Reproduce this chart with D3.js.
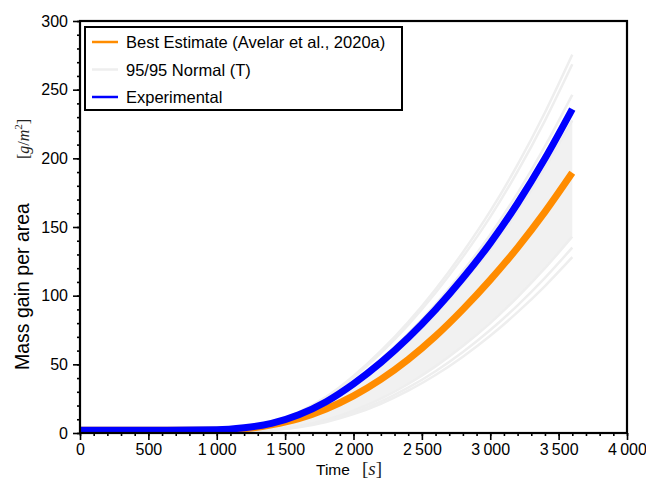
<!DOCTYPE html>
<html>
<head>
<meta charset="utf-8">
<script src="https://cdn.jsdelivr.net/npm/d3@7"></script>
<style>
  body { margin: 0; background: #fff; }
  text { font-family: "Liberation Sans", Arial, Helvetica, sans-serif; fill: #000; }
  .math { font-family: "Liberation Serif", "DejaVu Serif", serif; fill: #222; }
</style>
</head>
<body>
<div id="chart"></div>
<script>
(function() {
  var width, height, svg, x, y, line, area, fmt, legend, legendRows, ymath, xmath, plot;

  // time axis of every series [s]
  var timeS = [0, 500, 1000, 1200, 1400, 1600, 1800, 2000, 2200, 2400, 2600, 2800, 3000, 3200, 3400, 3600];

  // mass gain per area [g/m2]
  var experimental = [2, 2, 2.3, 3.8, 7, 13.3, 22.8, 35.8, 51.3, 69.3, 89.8, 112.8, 138.3, 167.3, 199.8, 235.8];
  var bestEstimate = [2, 2, 2, 3, 6, 10.5, 17.5, 27, 39, 53.5, 70.5, 90, 111.5, 135, 161, 189.5];

  // 95/95 normal runs (the dense middle of the runs is kept as its two edges)
  var runHigh1 = [2, 2, 2.4, 4.1, 7.9, 15.2, 26.3, 41.5, 59.7, 80.7, 104.7, 131.6, 161.5, 195.4, 233.4, 275.5];
  var runHigh2 = [2, 2, 2.3, 4, 7.7, 14.9, 25.7, 40.5, 58.2, 78.7, 102.1, 128.3, 157.4, 190.5, 227.5, 268.5];
  var runHigh3 = [2, 2, 2.3, 3.9, 7.2, 13.8, 23.7, 37.3, 53.5, 72.3, 93.7, 117.8, 144.4, 174.7, 208.7, 246.3];
  var runBandTop = [2, 2, 2.3, 3.7, 6.8, 12.9, 22.1, 34.6, 49.6, 67, 86.7, 108.9, 133.5, 161.5, 192.9, 227.6];
  var runBandLow = [2, 2, 2, 2, 2.6, 5.1, 9.7, 16.3, 25, 35.7, 48.5, 63.3, 80, 99, 120, 143];
  var runLow1 = [2, 2, 2, 2, 2.4, 4.6, 9, 15, 23, 33, 45, 59, 75, 93, 113, 135];
  var runLow2 = [2, 2, 2, 2, 2.2, 4.1, 8, 13.7, 21.3, 30.8, 42.2, 55.6, 70.8, 88, 107, 128];
  var runs = [runHigh1, runHigh2, runHigh3, runBandTop, runBandLow, runLow1, runLow2];

  var xTicks = [0, 500, 1000, 1500, 2000, 2500, 3000, 3500, 4000];
  var yTicks = [0, 50, 100, 150, 200, 250, 300];
  var legendLabels = ['Best Estimate (Avelar et al., 2020a)', '95/95 Normal (T)', 'Experimental'];
  var legendColors = ['#ff8c00', '#eeeeee', '#0000ff'];

  width = 646;
  height = 493;

  svg = d3.select('#chart').append('svg').attr('width', width).attr('height', height);

  x = d3.scaleLinear().domain([0, 4000]).range([80, 627]);
  y = d3.scaleLinear().domain([0, 300]).range([433, 21]);

  svg.append('clipPath').attr('id', 'clip').append('rect')
    .attr('x', 80).attr('y', 21).attr('width', 547).attr('height', 412);

  plot = svg.append('g').attr('clip-path', 'url(#clip)');

  line = function(vals) {
    return d3.line().curve(d3.curveMonotoneX)
      .x(function(d, i) { return x(timeS[i]); })
      .y(function(d) { return y(d); })(vals);
  };

  area = d3.area().curve(d3.curveMonotoneX)
    .x(function(d, i) { return x(timeS[i]); })
    .y0(function(d, i) { return y(runBandLow[i]); })
    .y1(function(d, i) { return y(runBandTop[i]); });

  plot.append('path').datum(timeS).attr('d', area).attr('fill', '#f1f1f1');

  plot.selectAll('path.run').data(runs).enter().append('path').attr('class', 'run')
    .attr('d', line).attr('fill', 'none').attr('stroke', '#eeeeee').attr('stroke-width', 2.5);

  plot.append('path').attr('d', line(bestEstimate)).attr('fill', 'none')
    .attr('stroke', '#ff8c00').attr('stroke-width', 7);
  plot.append('path').attr('d', line(experimental)).attr('fill', 'none')
    .attr('stroke', '#0000ff').attr('stroke-width', 7);

  fmt = d3.formatLocale({decimal: '.', thousands: '\u2009', grouping: [3], currency: ['', '']}).format(',');

  svg.append('g').attr('transform', 'translate(0,433)')
    .call(d3.axisBottom(x).tickValues(xTicks).tickSize(7).tickPadding(4).tickFormat(fmt));
  svg.append('g').attr('transform', 'translate(0,433)')
    .call(d3.axisBottom(x).tickValues(d3.range(0, 4001, 100)).tickSize(3).tickFormat(''));
  svg.append('g').attr('transform', 'translate(80,0)')
    .call(d3.axisLeft(y).tickValues(yTicks).tickSize(7).tickPadding(5));
  svg.append('g').attr('transform', 'translate(80,0)')
    .call(d3.axisLeft(y).tickValues(d3.range(0, 301, 10)).tickSize(3).tickFormat(''));

  svg.selectAll('.domain').remove();
  svg.selectAll('.tick line').attr('stroke', '#000').attr('stroke-width', 1.6);
  svg.selectAll('.tick text').attr('font-size', '16px').attr('fill', '#000')
    .style('font-family', '"Liberation Sans", Arial, sans-serif');

  svg.append('rect').attr('x', 80).attr('y', 21).attr('width', 547).attr('height', 412)
    .attr('fill', 'none').attr('stroke', '#000').attr('stroke-width', 2.2);

  // legend
  legend = svg.append('g');
  legend.append('rect').attr('x', 85).attr('y', 27).attr('width', 317).attr('height', 83)
    .attr('fill', '#fff').attr('stroke', '#000').attr('stroke-width', 2);
  legendRows = legend.selectAll('g.row').data(legendLabels).enter().append('g').attr('class', 'row')
    .attr('transform', function(d, i) { return 'translate(0,' + (42 + i * 27.5) + ')'; });
  legendRows.append('line').attr('x1', 92).attr('x2', 118).attr('y1', 0).attr('y2', 0)
    .attr('stroke', function(d, i) { return legendColors[i]; }).attr('stroke-width', 2.5);
  legendRows.append('text').attr('x', 126).attr('y', 6).attr('font-size', '16.5px')
    .text(function(d) { return d; });

  // axis titles
  svg.append('text').attr('transform', 'translate(29,370) rotate(-90)').attr('font-size', '19.5px')
    .text('Mass gain per area');
  ymath = svg.append('text').attr('class', 'math').attr('transform', 'translate(29,159) rotate(-90)')
    .attr('font-size', '16px');
  ymath.append('tspan').text('[');
  ymath.append('tspan').attr('font-style', 'italic').text('g');
  ymath.append('tspan').text('/');
  ymath.append('tspan').attr('font-style', 'italic').text('m');
  ymath.append('tspan').attr('font-size', '11px').attr('dy', -7).text('2');
  ymath.append('tspan').attr('dy', 7).text(']');

  svg.append('text').attr('x', 316).attr('y', 475).attr('font-size', '15.5px').text('Time');
  xmath = svg.append('text').attr('class', 'math').attr('x', 362).attr('y', 475).attr('font-size', '19px');
  xmath.append('tspan').text('[');
  xmath.append('tspan').attr('font-style', 'italic').text('s');
  xmath.append('tspan').text(']');
}).call(this);
</script>
</body>
</html>
